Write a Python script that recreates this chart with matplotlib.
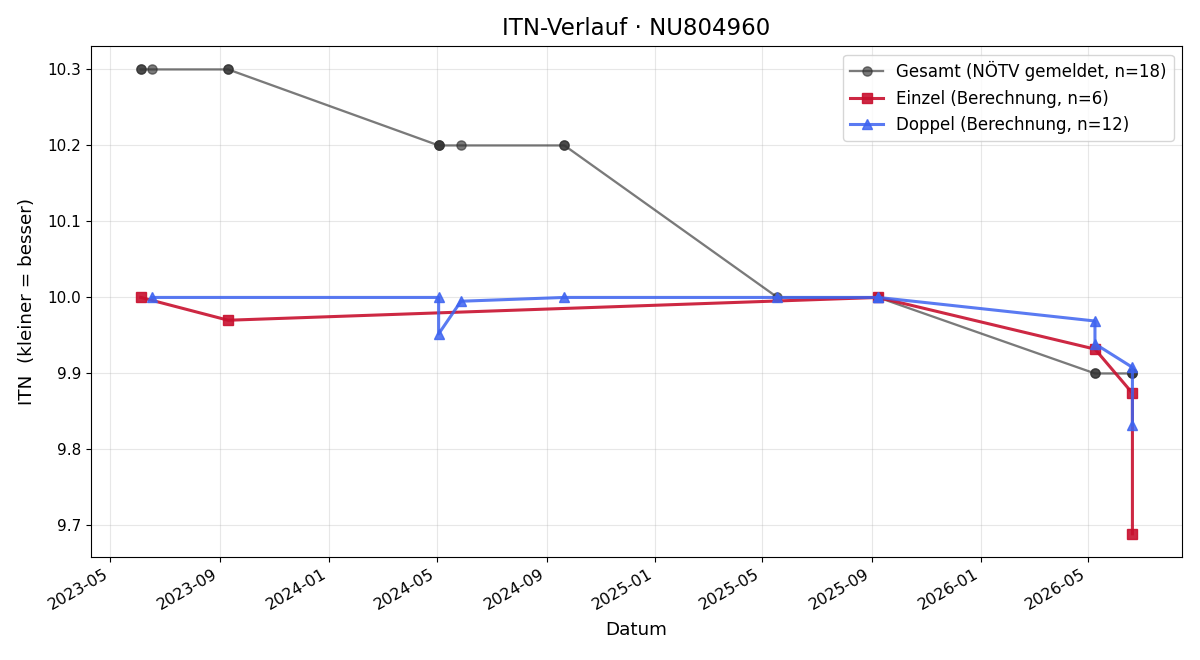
"""
ITN-Verlauf eines Spielers: NÖTV-Wert und berechnete Einzel/Doppel-Werte
"""

import pandas as pd
import matplotlib
matplotlib.use('Agg')
import matplotlib.pyplot as plt
import matplotlib.dates as mdates

# Gesamt (vom Verband gemeldet)
gesamt_dates = ['2023-06-04', '2023-06-04', '2023-06-17', '2023-09-10', '2023-09-10',
                '2024-05-03', '2024-05-03', '2024-05-03', '2024-05-28', '2024-09-21',
                '2024-09-21', '2025-05-18', '2025-09-08', '2026-05-09', '2026-05-09',
                '2026-06-20', '2026-06-20', '2026-06-20']
gesamt_itn = [10.3, 10.3, 10.3, 10.3, 10.3,
              10.2, 10.2, 10.2, 10.2, 10.2,
              10.2, 10.0, 10.0, 9.9, 9.9,
              9.9, 9.9, 9.9]

# Einzel (Berechnung)
einzel_dates = ['2023-06-04', '2023-09-10', '2025-09-08', '2026-05-09', '2026-06-20', '2026-06-20']
einzel_itn = [10.0, 9.97, 10.0, 9.932, 9.874, 9.689]

# Doppel (Berechnung)
doppel_dates = ['2023-06-17', '2024-05-03', '2024-05-03', '2024-05-28', '2024-09-21',
                '2025-05-18', '2025-09-08', '2025-09-08', '2026-05-09', '2026-05-09',
                '2026-06-20', '2026-06-20']
doppel_itn = [10.0, 10.0, 9.952, 9.995, 10.0,
              10.0, 10.0, 10.0, 9.969, 9.939,
              9.908, 9.832]

fig, ax = plt.subplots(figsize=(12, 6.6), dpi=100)

ax.plot(pd.to_datetime(gesamt_dates), gesamt_itn, marker='o', markersize=6.6,
        color='#333333', alpha=0.65, linewidth=1.65,
        label=f'Gesamt (NÖTV gemeldet, n={len(gesamt_itn)})')
ax.plot(pd.to_datetime(einzel_dates), einzel_itn, marker='s', markersize=7,
        color='#c8102e', alpha=0.9, linewidth=2.2,
        label=f'Einzel (Berechnung, n={len(einzel_itn)})')
ax.plot(pd.to_datetime(doppel_dates), doppel_itn, marker='^', markersize=7,
        color='#3d63f0', alpha=0.85, linewidth=2.2,
        label=f'Doppel (Berechnung, n={len(doppel_itn)})')

ax.xaxis.set_major_locator(mdates.MonthLocator(bymonth=[1, 5, 9]))
ax.xaxis.set_major_formatter(mdates.DateFormatter('%Y-%m'))
fig.autofmt_xdate()

ax.set_title('ITN-Verlauf · NU804960', fontsize=16.5, pad=8)
ax.set_xlabel('Datum', fontsize=13.2, labelpad=6)
ax.set_ylabel('ITN  (kleiner = besser)', fontsize=13.2, labelpad=8)
ax.tick_params(axis='y', labelsize=11)
ax.tick_params(axis='x', labelsize=11.5)
ax.grid(True, alpha=0.3)
ax.legend(loc='upper right', fontsize=12)

fig.subplots_adjust(left=0.076, right=0.985, top=0.93, bottom=0.156)
fig.savefig('out.png')
